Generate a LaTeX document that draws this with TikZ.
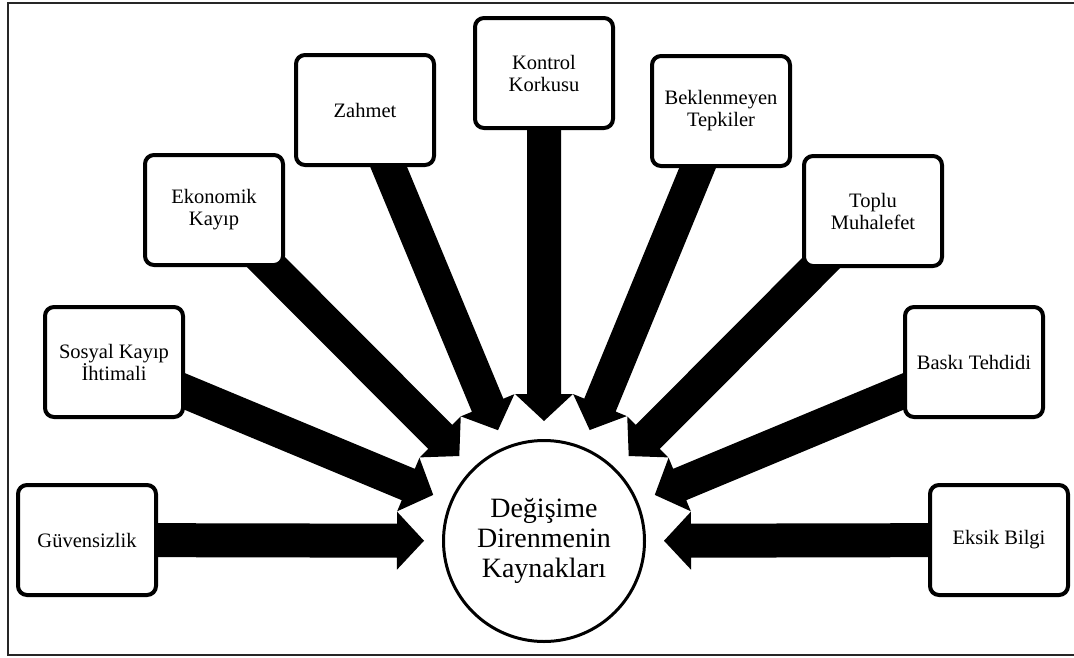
\documentclass[tikz,border=0pt]{standalone}
\usepackage{fontspec}
\setmainfont{Liberation Serif}
\usetikzlibrary{calc,backgrounds}

% Block arrow from the centre of node #1 towards the centre of node #2,
% stopping a fixed distance short of it.
\newcommand\blockarrow[2]{%
  \coordinate (tip) at ($(#2.center)!120pt!(#1.center)$);
  \coordinate (back) at ($(tip)!27pt!(#1.center)$);
  \fill[arrowfill]
    ($(#1.center)!17pt!90:(tip)$) --
    ($(back)!17pt!90:(tip)$) --
    ($(back)!29pt!90:(tip)$) --
    (tip) --
    ($(back)!29pt!-90:(tip)$) --
    ($(back)!17pt!-90:(tip)$) --
    ($(#1.center)!17pt!-90:(tip)$) -- cycle;
}

\begin{document}
\begin{tikzpicture}[x=1pt,y=-1pt,
  srcbox/.style={draw, line width=4pt, rounded corners=9pt, fill=white,
    minimum width=138pt, minimum height=110pt, inner sep=0pt, align=center,
    font=\fontsize{20.5}{22}\selectfont},
  hub/.style={circle, draw, line width=3pt, fill=white, minimum size=201pt,
    inner sep=0pt, align=center, font=\fontsize{28}{30}\selectfont},
  arrowfill/.style={fill=black},
  frameline/.style={draw=black!85, line width=1.6pt}]
\useasboundingbox (0,0) rectangle (1074,657);

% outer frame
\coordinate (f1) at (1074,3);
\coordinate (f2) at (8,3);
\coordinate (f3) at (8,655);
\coordinate (f4) at (1074,655);
\draw[frameline] (f1) -- (f2) -- (f3) -- (f4);

% central circle
\node[hub] (hub) at (544,541) {Değişime\\Direnmenin\\Kaynakları};

% sources
\node[srcbox] (guv) at (87,540)  {Güvensizlik};
\node[srcbox] (sos) at (114,362) {Sosyal Kayıp\\İhtimali};
\node[srcbox] (eko) at (214,210) {Ekonomik\\Kayıp};
\node[srcbox] (zah) at (365,110) {Zahmet};
\node[srcbox] (kon) at (544,73)  {Kontrol\\Korkusu};
\node[srcbox] (bek) at (721,111) {Beklenmeyen\\Tepkiler};
\node[srcbox] (top) at (873,211) {Toplu\\Muhalefet};
\node[srcbox] (bas) at (974,362) {Baskı Tehdidi};
\node[srcbox] (eks) at (999,540) {Eksik Bilgi};

% arrows, drawn behind the boxes
\begin{scope}[on background layer]
  \blockarrow{guv}{hub}
  \blockarrow{sos}{hub}
  \blockarrow{eko}{hub}
  \blockarrow{zah}{hub}
  \blockarrow{kon}{hub}
  \blockarrow{bek}{hub}
  \blockarrow{top}{hub}
  \blockarrow{bas}{hub}
  \blockarrow{eks}{hub}
\end{scope}
\end{tikzpicture}
\end{document}
